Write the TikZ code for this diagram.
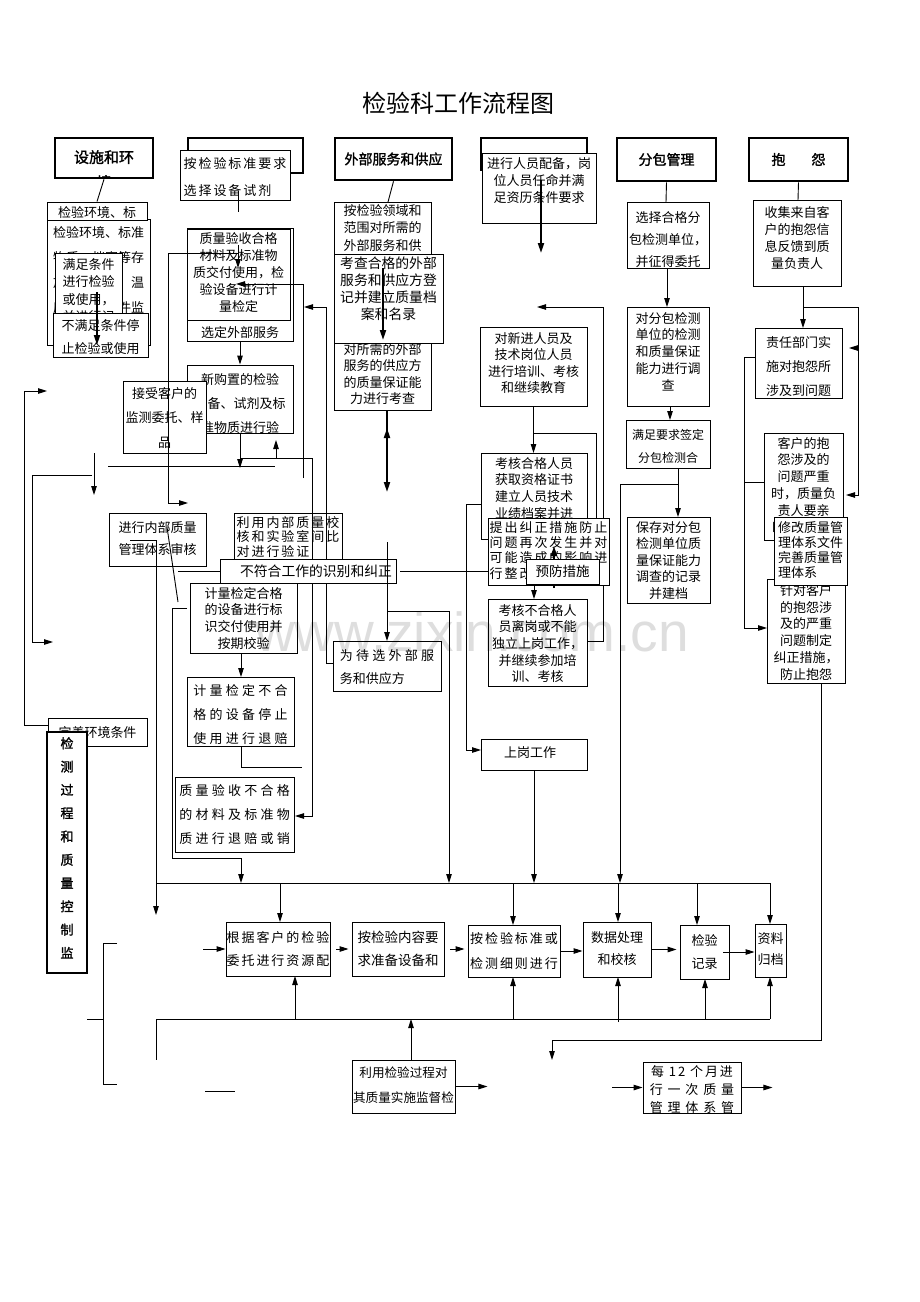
\documentclass[tikz,border=0pt]{standalone}
\usepackage{fontspec}
\setmainfont{Noto Sans CJK SC}
\newfontfamily\wide[LetterSpace=15]{Noto Sans CJK SC}
\newfontfamily\wider[LetterSpace=25]{Noto Sans CJK SC}
\newfontfamily\widest[LetterSpace=37]{Noto Sans CJK SC}
\newfontfamily\hb[FakeBold=1.5]{Noto Sans CJK SC}
\newfontfamily\wm{Liberation Sans}
\usetikzlibrary{arrows.meta}
\newcommand{\fA}[1]{\fontsize{13}{#1}\selectfont}
% name, x1, y1, x2, y2, first-line centre, font, options, text
\newcommand{\bx}[9]{%
  \node[box, minimum width={#4-#2}, minimum height={#5-#3}] (#1) at ({(#2+#4)/2},{(#3+#5)/2}) {};
  \begin{scope}
    \clip (#2,#3) rectangle (#4,#5);
    \node[txt, font={#7}, #8] at ({(#2+#4)/2},{#6-6}) {#9};
  \end{scope}}
\begin{document}
\begin{tikzpicture}[x=1pt,y=-1pt,
  box/.style={draw, fill=white, line width=0.9pt, inner sep=0pt},
  hbox/.style={draw, fill=white, line width=2.6pt, inner sep=0pt},
  txt/.style={anchor=north, inner sep=0pt, align=center},
  ln/.style={line width=0.9pt},
  ar/.style={line width=0.9pt, -{Triangle[length=9pt,width=5.5pt]}},
  tar/.style={line width=1.8pt, -{Triangle[length=10pt,width=6pt]}},
  hfont/.style={font=\hb\fontsize{14}{16}\selectfont}]

\fill[white] (0,0) rectangle (920,1302);
\useasboundingbox (0,0) rectangle (920,1302);

\node[font=\fontsize{24}{28}\selectfont] (title) at (458,103) {检验科工作流程图};

% ---------- headers ----------
\node[hbox, minimum width=98, minimum height=40] (H1) at (104,158) {};
\begin{scope}\clip (56,139) rectangle (152,176.5);
\node[txt, font=\hb\fontsize{15}{25}\selectfont] at (104,150) {设施和环\\境};
\end{scope}
\node[hbox, minimum width=115, minimum height=35] (H2) at (245.5,155.5) {};
\node[hbox, minimum width=117, minimum height=42, hfont] (H3) at (393.5,159) {外部服务和供应};
\node[hbox, minimum width=106, minimum height=32] (H4) at (534,154) {};
\node[hbox, minimum width=99, minimum height=43, hfont] (H5) at (666.5,159.5) {分包管理};
\node[hbox, minimum width=99, minimum height=43, hfont] (H6) at (798.5,159.5) {抱\hspace{26pt}怨};

% ---------- column 1 ----------
\bx{B1b}{47}{219}{150}{345}{232}{\fA{25}}{}{检验环境、标准\\物质、档案等存\\放场所环境、温\\度、湿度条件监\\并进行记录}
\bx{B1a}{47}{202}{147}{220}{212}{\fA{20}}{}{检验环境、标}
\draw[ln] (H1.south) -- (B1a.north);
\bx{B1c}{55}{253}{122}{330}{264}{\fA{17.5}}{align=left}{满足条件\\进行检验\\或使用，\\并进行记}
\bx{B1d}{53}{313}{148}{357}{325}{\fA{23}}{}{不满足条件停\\止检验或使用}
\draw[tar] (97,292) -- (97,345);

% ---------- column 2 ----------
\bx{B2a}{180}{150}{290}{200}{163}{\wide\fontsize{13}{27}\selectfont}{align=left}{按检验标准要求\\选择设备试剂}
\draw[ln] (238,195) -- (238,212);
\bx{B2c}{187}{228}{293}{341}{332}{\fA{20}}{}{选定外部服务}
\bx{B2b}{187}{229}{290}{320}{238}{\fA{17}}{}{质量验收合格\\材料及标准物\\质交付使用，检\\验设备进行计\\量检定}
\bx{B2d}{187}{365}{293}{433}{379}{\fA{24}}{}{新购置的检验\\设备、试剂及标\\准物质进行验}
\bx{B2e}{123}{381}{206}{453}{393}{\fA{24.5}}{}{接受客户的\\监测委托、样\\品}
\bx{B2f}{109}{513}{206}{566}{527}{\fA{22}}{}{进行内部质量\\管理体系审核}
\bx{B2g}{234}{513}{342}{566}{522}{\wide\fontsize{13}{14.5}\selectfont}{align=left}{利用内部质量校\\核和实验室间比\\对进行验证}

\draw[ar] (238,245) -- (238,268);
\draw[ar] (238,253) -- (168,253) -- (168,503) -- (188,503);
\draw[ar] (303,478) -- (303,284) -- (236,284);
\draw[ar] (B2c.south) -- (B2d.north);
\draw[ar] (B2d.south) -- (240,468);
\draw[ln] (108,466) -- (275,466);
\draw[ar] (240,458) -- (312,458) -- (312,816) -- (295,816);
\draw[ar] (276,458) -- (276,440);
\draw[ar] (94,453) -- (94,495);
\draw[ar] (92,475) -- (32,475) -- (32,642) -- (53,642);
\draw[ar] (48,725) -- (24,725) -- (24,391) -- (47,391);
\draw[ar] (130,540) -- (156,540) -- (156,915);
\draw[ln] (167,527) -- (178,602);
\draw[ar] (333,663) -- (326,663) -- (326,307) -- (304,307);

\bx{B2h}{220}{559}{396}{583}{571}{\fontsize{13.8}{20}\selectfont}{xshift=8}{不符合工作的识别和纠正}
\draw[ln] (178,571) -- (B2h.west);
\bx{B2i}{190}{583}{297}{653}{593}{\fA{16.7}}{}{计量检定合格\\的设备进行标\\识交付使用并\\按期校验}
\draw[ar] (241,653) -- (241,677);
\bx{B2j}{187}{677}{294}{746}{690}{\wider\fontsize{13}{24}\selectfont}{}{计量检定不合\\格的设备停止\\使用进行退赔}
\draw[ln] (241,746) -- (241,767) -- (302,767);
\bx{B2k}{175}{777}{294}{852}{790}{\wider\fontsize{13}{24}\selectfont}{}{质量验收不合格\\的材料及标准物\\质进行退赔或销}
\draw[ar] (187,608) -- (172,608) -- (172,858) -- (241,858) -- (241,883);

% ---------- column 3 ----------
\draw[ln] (H3.south) -- (388,202);
\bx{B3c}{334}{254}{431}{410}{349}{\fA{16.5}}{}{对所需的外部\\服务的供应方\\的质量保证能\\力进行考查}
\bx{B3a}{334}{202}{431}{272}{210}{\fA{17.5}}{}{按检验领域和\\范围对所需的\\外部服务和供\\应方进行选择}
\bx{B3b}{334}{254}{443}{343}{263}{\fontsize{13.8}{17}\selectfont}{}{考查合格的外部\\服务和供应方登\\记并建立质量档\\案和名录}
\draw[tar] (383,268) -- (383,340);
\draw[tar] (387,410) -- (387,492);
\draw[tar] (387,460) -- (387,428);
\draw[ar] (387,542) -- (387,641);
\draw[ar] (387,611) -- (449,611) -- (449,883);
\draw[ar] (400,571) -- (526,571);
\bx{B3d}{333}{641}{441}{691}{655}{\fontsize{13}{23}\selectfont}{align=left}{{\wider 为待选外部服}\\务和供应方}

% ---------- column 4 ----------
\bx{B4a}{482}{153}{596}{223}{163}{\fA{17}}{}{进行人员配备，岗\\位人员任命并满\\足资历条件要求}
\draw[tar] (541,180) -- (541,253);
\draw[ar] (587,641) -- (603,641) -- (603,307) -- (537,307);
\bx{B4b}{480}{327}{587}{406}{338}{\fA{16.5}}{}{对新进人员及\\技术岗位人员\\进行培训、考核\\和继续教育}
\draw[ar] (B4b.south) -- (533.5,453);
\draw[ln] (534,433) -- (596,433) -- (596,519);
\bx{B4c}{481}{453}{587}{539}{463}{\fA{16.7}}{}{考核合格人员\\获取资格证书\\建立人员技术\\业绩档案并进\\行管理}
\draw[ar] (481,504) -- (466,504) -- (466,750) -- (481,750);
\bx{B4d}{488}{518}{609}{585}{527}{\wide\fontsize{13}{15.3}\selectfont}{align=left}{提出纠正措施防止\\问题再次发生并对\\可能造成的影响进\\行整改}
\draw[tar] (554,588) -- (554,546);
\bx{B4e}{526}{559}{599}{584}{571}{\fontsize{13.5}{20}\selectfont}{}{预防措施}
\draw[ar] (534,585) -- (534,599);
\bx{B4f}{488}{599}{587}{686}{610}{\fA{16.7}}{}{考核不合格人\\员离岗或不能\\独立上岗工作，\\并继续参加培\\训、考核}
\bx{B4g}{481}{739}{587}{770}{752}{\fA{20}}{xshift=-4}{上岗工作}
\draw[ar] (534,770) -- (534,883);

% ---------- column 5 ----------
\draw[ln] (H5.south) -- (666,202);
\bx{B5a}{627}{202}{709}{268}{217}{\fA{22}}{}{选择合格分\\包检测单位，\\并征得委托}
\draw[ar] (667,268) -- (667,307);
\bx{B5b}{627}{307}{709}{406}{318}{\fA{16.7}}{}{对分包检测\\单位的检测\\和质量保证\\能力进行调\\查}
\draw[ar] (670,406) -- (670,420);
\bx{B5c}{626}{420}{710}{468}{435}{\fontsize{12}{23}\selectfont}{}{满足要求签定\\分包检测合}
\draw[ar] (678,468) -- (678,517);
\draw[ar] (678,484) -- (620,484) -- (620,883);
\bx{B5d}{627}{517}{710}{603}{527}{\fA{16.5}}{}{保存对分包\\检测单位质\\量保证能力\\调查的记录\\并建档}

% ---------- column 6 ----------
\draw[ln] (H6.south) -- (798,200);
\bx{B6a}{753}{200}{841}{286}{212}{\fA{17}}{}{收集来自客\\户的抱怨信\\息反馈到质\\量负责人}
\draw[ar] (803,286) -- (803,328);
\draw[ar] (803,307) -- (858,307) -- (858,495) -- (846,495);
\draw[ar] (858,348) -- (849,348);
\bx{B6b}{755}{328}{842}{398}{342}{\fA{24}}{}{责任部门实\\施对抱怨所\\涉及到问题}
\draw[ar] (755,357) -- (744,357) -- (744,628) -- (767,628);
\draw[ln] (744,482) -- (765,482);
\bx{B6c}{764}{433}{843}{540}{443}{\fA{16.7}}{}{客户的抱\\怨涉及的\\问题严重\\时，质量负\\责人要亲\\自组织调查}
\bx{B6e}{767}{579}{845}{683}{590}{\fA{16.8}}{}{针对客户\\的抱怨涉\\及的严重\\问题制定\\纠正措施，\\防止抱怨}
\bx{B6d}{774}{517}{847}{585}{527}{\fontsize{13}{15}\selectfont}{align=left}{修改质量管\\理体系文件\\完善质量管\\理体系}
\draw[ar] (821,683) -- (821,1040) -- (552,1040) -- (552,1060);

% ---------- left lower ----------
\bx{B1e}{48}{718}{147}{746}{732}{\fA{20}}{}{完善环境条件}
\node[hbox, minimum width=40, minimum height=241] (V) at (67,852.5) {};
\node[txt, font=\hb\fontsize{13}{23.3}\selectfont] at (67,737) {检\\测\\过\\程\\和\\质\\量\\控\\制\\监};

% ---------- bottom process ----------
\draw[ln] (156,883) -- (770,883);
\draw[ar] (280,883) -- (280,922);
\draw[ar] (513,883) -- (513,925);
\draw[ar] (618,883) -- (618,922);
\draw[ar] (697,883) -- (697,925);
\draw[ar] (770,883) -- (770,924);
\draw[ln] (156,1019) -- (770,1019);
\draw[ln] (156,1019) -- (156,1060);
\draw[ar] (295,1019) -- (295,976);
\draw[ar] (513,1019) -- (513,977);
\draw[ar] (618,1022) -- (618,977);
\draw[ar] (705,1019) -- (705,979);
\draw[ar] (770,1019) -- (770,977);
\draw[ar] (411,1060) -- (411,1019);

\bx{B7a}{226}{922}{330}{976}{937}{\wide\fontsize{13}{23}\selectfont}{}{根据客户的检验\\委托进行资源配}
\bx{B7b}{352}{922}{444}{976}{937}{\fontsize{13.5}{23}\selectfont}{}{按检验内容要\\求准备设备和}
\bx{B7c}{468}{925}{560}{977}{938}{\wide\fontsize{13}{25}\selectfont}{}{按检验标准或\\检测细则进行}
\bx{B7d}{583}{922}{651}{977}{937}{\fA{22}}{}{数据处理\\和校核}
\bx{B7e}{680}{925}{729}{979}{940}{\fA{23}}{}{检验\\记录}
\bx{B7f}{755}{924}{786}{977}{938}{\fA{21}}{}{资料\\归档}
\draw[ar, shorten <=6pt, shorten >=3pt] (B7a.east) -- (B7a.east -| B7b.west);
\draw[ar, shorten <=6pt, shorten >=3pt] (B7b.east) -- (B7b.east -| B7c.west);
\draw[ar] (B7c.east) -- (B7c.east -| B7d.west);
\draw[ar, shorten >=3pt] (B7d.east) -- (B7d.east -| B7e.west);
\draw[ar] ([xshift=-6pt]B7e.east) -- (B7e.east -| B7f.west);
\draw[ar] (203,949) -- (B7a.west);

\draw[ln] (117,943) -- (103,943) -- (103,1084) -- (117,1084);
\draw[ln] (87,1019) -- (103,1019);
\draw[ln] (205,1091) -- (235,1091);

\bx{B7g}{352}{1060}{455}{1113}{1073}{\fontsize{12.6}{25}\selectfont}{}{利用检验过程对\\其质量实施监督检}
\draw[ar] (B7g.east) -- ++(32,0);
\bx{B7h}{643}{1062}{741}{1113}{1071}{\fontsize{13}{18}\selectfont}{}{{\wide 每 12 个月进}\\{\widest 行一次质量}\\{\widest 管理体系管}}
\draw[ar] (612,1087.5) -- (B7h.west);
\draw[ar] (B7h.east) -- ++(31,0);

% watermark
\node[font=\wm\fontsize{55}{60}\selectfont, text=black, opacity=0.13] (wm) at (472,632) {www.zixin.com.cn};
\end{tikzpicture}
\end{document}
